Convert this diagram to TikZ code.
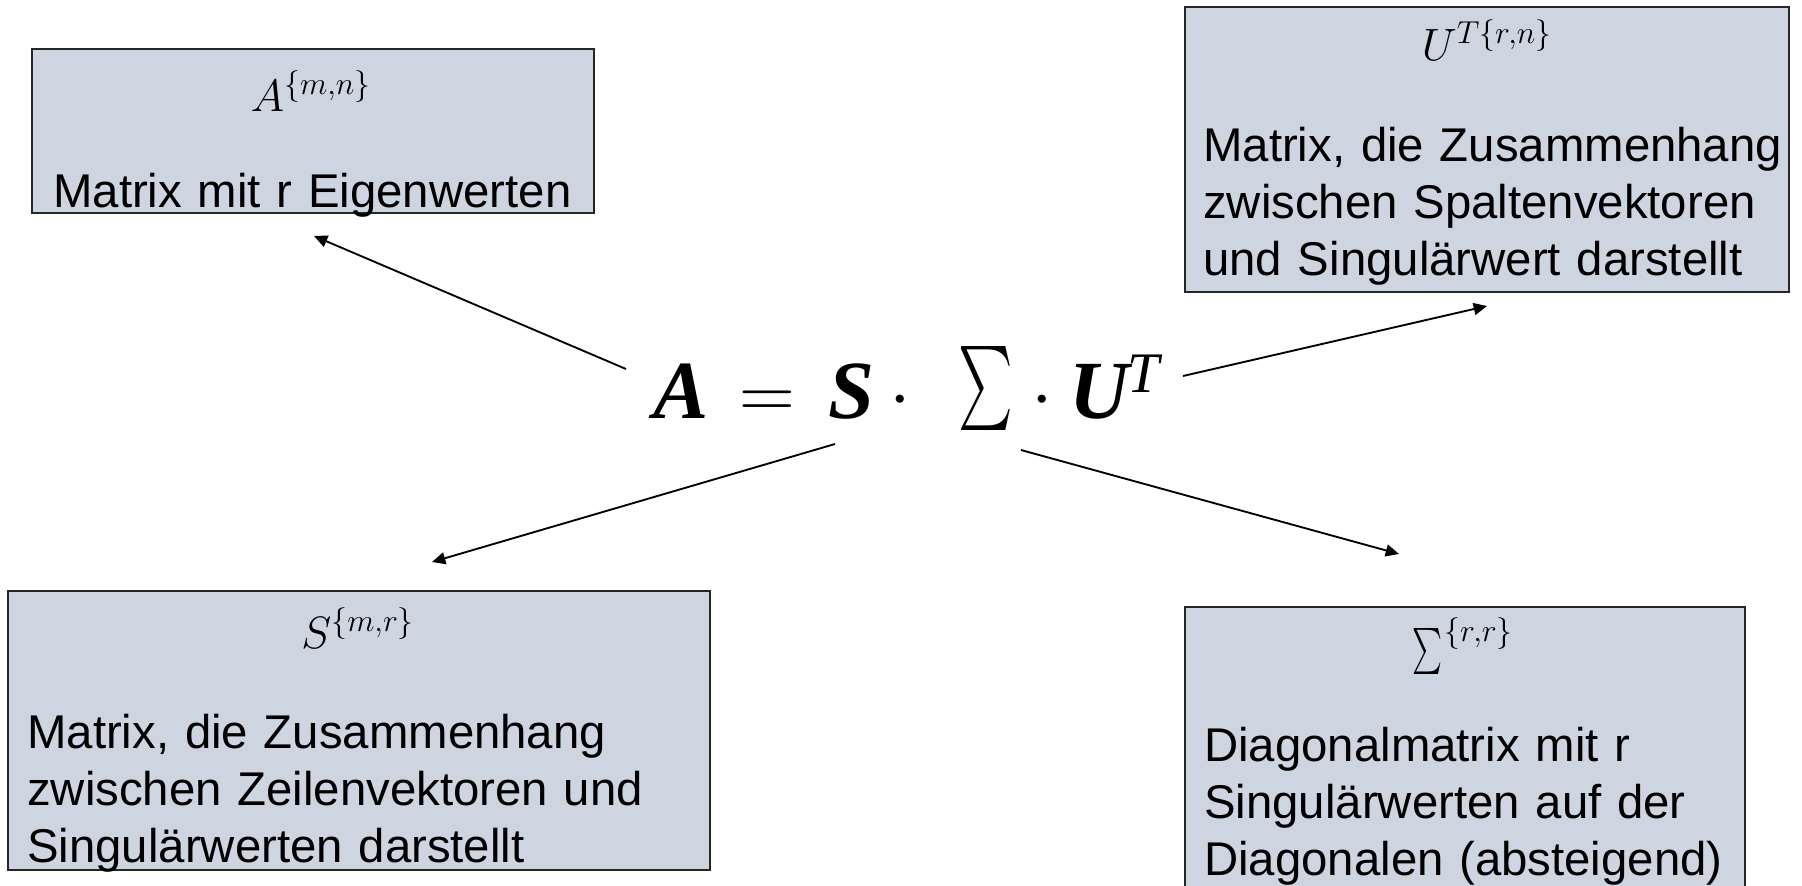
\RequirePackage{fix-cm}
\documentclass[tikz,border=0pt]{standalone}
\usepackage{amsmath}
\usepackage{fontspec}
\setmainfont{Liberation Sans}
\newfontfamily\eqfont{Liberation Serif}
\usetikzlibrary{arrows.meta}
\definecolor{boxfill}{RGB}{205,213,224}
\newcommand{\bigsum}[2]{\resizebox*{#1}{#2}{$\sum$}}
\tikzset{
  infobox/.style={fill=boxfill,draw=black!85,line width=1pt},
  boxlabel/.style={anchor=base,inner sep=0pt,font=\fontsize{34}{40}\selectfont},
  boxtext/.style={anchor=base west,inner sep=0pt,align=left,text width=480pt,
    font=\fontsize{35.5}{43}\selectfont},
  eqletter/.style={anchor=base,inner sep=0pt,font=\eqfont\bfseries\itshape\fontsize{62}{70}\selectfont},
  eqsym/.style={anchor=base,inner sep=0pt,font=\fontsize{58}{70}\selectfont},
  pointer/.style={-{Triangle[length=10pt,width=9pt]},line width=1.4pt}
}
\begin{document}
\begin{tikzpicture}[x=0.75pt,y=-0.75pt]
\useasboundingbox (0,0) rectangle (1802,885);
% boxes
\path[infobox] (32,49) rectangle (594,213);
\path[infobox] (1185,7) rectangle (1789,292);
\path[infobox] (8,591) rectangle (710,870);
\path[infobox] (1185,607) rectangle (1745,900);
% labels on top of the boxes
\node[boxlabel] (lblA) at (311,111) {$A^{\{m,n\}}$};
\node[boxlabel] (lblU) at (1487,60) {$U^{T\{r,n\}}$};
\node[boxlabel] (lblS) at (358,648) {$S^{\{m,r\}}$};
\node[inner sep=0pt] (lblSig) at (1427,651) {\bigsum{22.5pt}{34.5pt}};
\node[boxlabel,anchor=base west] (lblSigSup) at (1444,641) {$\scriptstyle\{r,r\}$};
% descriptions
\node[boxtext] (txtA) at (53,207) {Matrix mit r Eigenwerten};
\node[boxtext] (txtU) at (1203,161) {Matrix, die Zusammenhang\\zwischen Spaltenvektoren\\und Singulärwert darstellt};
\node[boxtext] (txtS) at (27,748) {Matrix, die Zusammenhang\\zwischen Zeilenvektoren und\\Singulärwerten darstellt};
\node[boxtext] (txtSig) at (1204,761) {Diagonalmatrix mit r\\Singulärwerten auf der\\Diagonalen (absteigend)};
% the decomposition A = S . Sum . U^T
\node[eqletter] (eqA) at (681,418) {A};
\node[eqsym] (eqEq) at (767,418) {$=$};
\node[eqletter] (eqS) at (851,418) {S};
\node[eqsym] (eqDotL) at (900,418) {$\cdot$};
\node[inner sep=0pt] (eqSum) at (986,388) {\bigsum{41pt}{63pt}};
\node[eqsym] (eqDotR) at (1042,418) {$\cdot$};
\node[eqletter] (eqU) at (1099,418) {U};
\node[anchor=base west,inner sep=0pt,font=\eqfont\itshape\fontsize{43}{50}\selectfont] (eqT) at (1127,392) {T};
% arrow ends
\coordinate (fromA) at (626,369);
\coordinate (toA) at (314,236);
\coordinate (fromU) at (1183,376);
\coordinate (toU) at (1487,306);
\coordinate (fromS) at (835,444);
\coordinate (toS) at (432,562);
\coordinate (fromSig) at (1021,450);
\coordinate (toSig) at (1399,554);
\draw[pointer] (fromA) -- (toA);
\draw[pointer] (fromU) -- (toU);
\draw[pointer] (fromS) -- (toS);
\draw[pointer] (fromSig) -- (toSig);
\end{tikzpicture}
\end{document}
